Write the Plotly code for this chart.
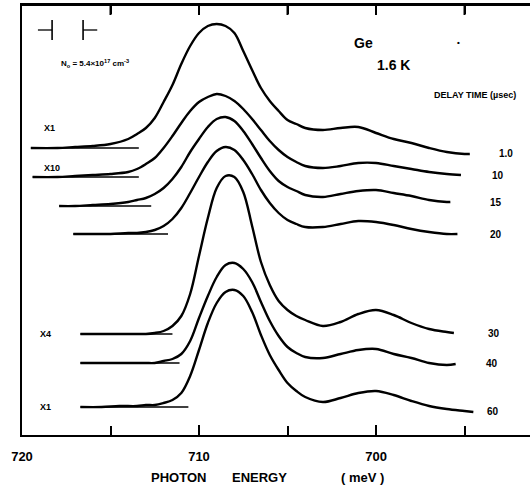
import plotly.graph_objects as go

# ---- data (photon energy in meV, signal in arb. units) ----
delay_times = ["1.0", "10", "15", "20", "30", "40", "60"]
scale_labels = ["X1", "X10", "", "", "X4", "", "X1"]
offsets = [287, 258, 229, 201, 101, 72, 28]

# energies sampled across the luminescence band (shared by all spectra)
core_energy = [713.5, 713.0, 712.5, 712.0, 711.5, 711.0, 710.5, 710.0, 709.5, 709.0,
               708.5, 708.0, 707.5, 707.0, 706.5, 706.0, 705.5, 705.0, 704.5, 704.0,
               703.0, 702.0, 701.0, 700.0, 699.0, 698.0, 697.0, 696.0]

# low-energy / high-energy tail energies of each spectrum
head_1 = [719.5, 718.0, 717.0, 716.0, 715.0, 714.0]
tail_1 = [695.0, 694.7]
signal_1 = [0, 0, 1, 2, 4, 9,
            14, 20, 30, 46, 63, 84, 102, 115, 122, 124,
            122, 115, 97, 78, 60, 47, 37, 28, 24, 20,
            18, 20, 21, 15, 9, 5, 0, -4,
            -6, -6]

head_10 = [719.4, 718.0, 717.0, 716.0, 715.0, 714.0]
tail_10 = [695.2]
signal_10 = [0, 0, 1, 2, 3, 5,
             8, 13, 19, 29, 41, 54, 66, 75, 80, 83,
             81, 76, 68, 58, 47, 36, 27, 20, 15, 11,
             9, 11, 14, 14, 11, 8, 5, 3,
             2]

head_15 = [717.9, 717.0, 716.0, 715.0, 714.0]
tail_15 = [695.8]
signal_15 = [0, 0, 1, 2, 4,
             6, 8, 12, 18, 27, 39, 54, 67, 79, 87,
             89, 85, 75, 62, 48, 35, 25, 19, 15, 11,
             9, 12, 15, 16, 13, 10, 6, 4,
             4]

head_20 = [717.1, 716.0, 715.0, 714.0]
tail_20 = [695.4]
signal_20 = [0, 0, 0, 1,
             1, 2, 4, 8, 15, 26, 41, 57, 72, 83,
             87, 84, 74, 60, 44, 31, 21, 14, 10, 7,
             7, 10, 13, 12, 9, 5, 2, 0,
             0]

head_30 = [716.7, 715.5, 714.5]
tail_30 = [695.6]
signal_30 = [0, 0, 0,
             0, 0, 1, 3, 8, 18, 40, 78, 116, 146,
             158, 157, 142, 108, 72, 49, 33, 24, 18, 14,
             8, 12, 20, 24, 19, 11, 5, 2,
             1]

head_40 = [716.7, 715.5, 714.5]
tail_40 = [695.5]
signal_40 = [0, 0, 0,
             0, 0, 0, 2, 4, 9, 22, 45, 67, 86,
             98, 100, 94, 81, 61, 42, 27, 16, 10, 6,
             5, 9, 13, 14, 9, 5, 0, -2,
             -1]

head_60 = [716.7, 715.5, 714.5]
tail_60 = [695.0, 694.5]
signal_60 = [0, 0, 1,
             1, 2, 2, 4, 7, 14, 31, 57, 84, 104,
             115, 117, 111, 95, 72, 52, 37, 24, 16, 10,
             5, 9, 14, 16, 12, 6, 1, -2,
             -4, -5]

baseline_start = [719.5, 719.4, 717.9, 717.1, 716.7, 716.7, 716.7]
baseline_end = [713.4, 713.4, 712.7, 711.75, 711.5, 711.1, 710.6]

resolution = [718.3, 716.55]   # spectral resolution markers (meV)

tick_vals = [720, 710, 700]
tick_text = ["720", "710", "700"]
top_tick_vals = [715, 710, 705, 700, 695]

heads = [head_1, head_10, head_15, head_20, head_30, head_40, head_60]
tails = [tail_1, tail_10, tail_15, tail_20, tail_30, tail_40, tail_60]
signals = [signal_1, signal_10, signal_15, signal_20, signal_30, signal_40, signal_60]

FONT = "Liberation Sans"
fig = go.Figure()

for h, t, s, off, x0, x1 in zip(heads, tails, signals, offsets, baseline_start, baseline_end):
    e = h + core_energy + t
    fig.add_trace(go.Scatter(x=[x0, x1], y=[off, off], mode="lines",
                             line=dict(color="black", width=1.4), showlegend=False, hoverinfo="skip"))
    fig.add_trace(go.Scatter(x=e, y=[off + v for v in s], mode="lines",
                             line=dict(color="black", width=2.4, shape="spline", smoothing=1.0),
                             showlegend=False))

# plot-area pixel frame: left, right, top, bottom
L, R, T, B = 22, 530, 5, 435
def px(x):
    return (x - L) / (R - L)
def py(y):
    return (B - y) / (B - T)

def txt(text, x, y, size, anchor="center"):
    fig.add_annotation(text=text, x=px(x), y=py(y), xref="paper", yref="paper",
                       showarrow=False, xanchor=anchor, yanchor="middle",
                       font=dict(family=FONT, size=size, color="black", weight="bold"))

# delay time labels at right
label_pos = [(497, 153), (490, 175), (488, 203), (488, 234), (486, 333), (484, 363), (485, 411)]
for lab, (x, y) in zip(delay_times, label_pos):
    txt(lab, x, y, 10, "left")

# scale factor labels at left
scale_pos = [(42, 128), (42, 168), None, None, (38, 334), None, (38, 407)]
for lab, pos in zip(scale_labels, scale_pos):
    if lab and pos:
        txt(lab, pos[0], pos[1], 9, "left")

txt("Ge", 363, 43, 14)
txt("•", 458, 43, 8)
txt("1.6 K", 393, 65, 14)
txt("DELAY TIME (µsec)", 475, 95, 9)
txt("<b>N<sub>o</sub> = 5.4×10<sup>17</sup> cm<sup>-3</sup></b>", 95, 63, 8)

txt("PHOTON", 178, 477, 13)
txt("ENERGY", 259, 477, 13)
txt("( meV )", 362, 477, 13)

# top frame line and its inward ticks
fig.add_shape(type="line", x0=0, x1=1, y0=1, y1=1, xref="paper", yref="paper",
              line=dict(color="black", width=2), layer="above")
for tv in top_tick_vals:
    fig.add_shape(type="line", x0=tv, x1=tv, y0=430, y1=420, xref="x", yref="y",
                  line=dict(color="black", width=2), layer="above")

# resolution bracket
arm = 0.8
ry = 405
for xv, sgn in zip(resolution, [1, -1]):
    fig.add_shape(type="line", x0=xv, x1=xv, y0=ry - 10, y1=ry + 10, xref="x", yref="y",
                  line=dict(color="black", width=1.6))
    fig.add_shape(type="line", x0=xv, x1=xv + sgn * arm, y0=ry, y1=ry, xref="x", yref="y",
                  line=dict(color="black", width=1.3))

fig.update_layout(
    width=530, height=491,
    margin=dict(l=L, r=530 - R, t=T, b=491 - B),
    paper_bgcolor="white", plot_bgcolor="white",
    showlegend=False,
)
fig.update_xaxes(range=[720, 691.3], tickvals=tick_vals, ticktext=tick_text,
                 ticks="inside", ticklen=10, tickwidth=2, tickcolor="black",
                 minor=dict(dtick=5, tick0=0, ticks="inside", ticklen=9, tickwidth=2, tickcolor="black"),
                 showline=True, linecolor="black", linewidth=2, mirror="allticks",
                 showgrid=False, zeroline=False, ticklabelstandoff=8,
                 tickfont=dict(family=FONT, size=13, color="black", weight="bold"))
fig.update_yaxes(range=[0, 430], showticklabels=False, ticks="",
                 showline=True, linecolor="black", linewidth=2,
                 showgrid=False, zeroline=False)

fig.write_html("out.html", post_script="document.body.style.margin='0';",
               config={"displayModeBar": False})
